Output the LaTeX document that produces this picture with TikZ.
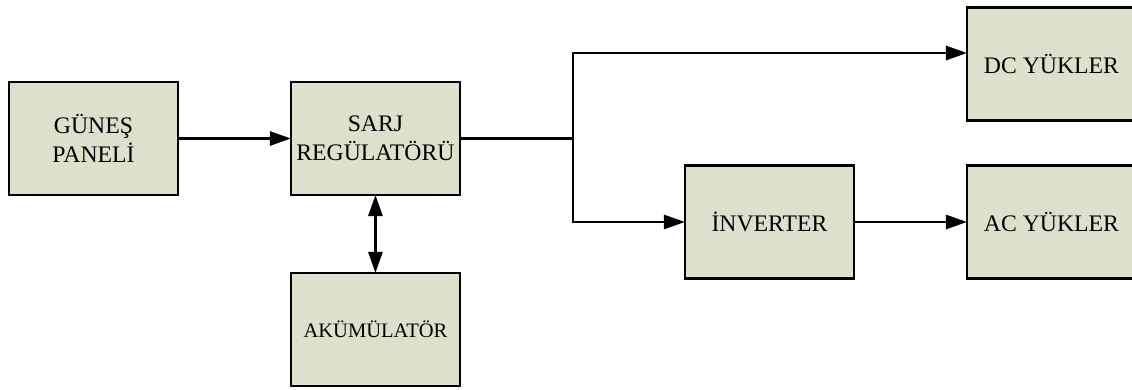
\documentclass[tikz,border=0pt]{standalone}
\usepackage{fontspec}
\setmainfont{Liberation Serif}
\usetikzlibrary{arrows.meta,positioning}

\begin{document}
\begin{tikzpicture}
[x=0.02cm,y=-0.02cm,
node distance=2.26cm,
block/.style={shape=rectangle,draw=black,line width=1.5pt,fill=boxfill,
  minimum width=3.38cm,minimum height=2.26cm,inner sep=2pt,outer sep=0pt,
  align=center,font=\fontsize{13.5}{16.5}\selectfont},
smallblock/.style={block,font=\fontsize{11.7}{13}\selectfont},
myedge/.style={line width=1.5pt},
dedge/.style={myedge,-{Triangle[length=12pt,width=8pt]}},
ddedge/.style={myedge,{Triangle[length=12pt,width=8pt]}-{Triangle[length=12pt,width=8pt]}}]
\definecolor{boxfill}{RGB}{221,224,203}
\useasboundingbox (0,0) rectangle (1132,389);

\node (gunes) [block] at (93.5,138.5) {GÜNEŞ\\PANELİ};
\node (sarj) [block,right=of gunes] {SARJ\\REGÜLATÖRÜ};
\node (aku) [smallblock,below=1.56cm of sarj] {AKÜMÜLATÖR};
\node (inv) [block] at (769.5,222) {İNVERTER};
\node (ac) [block,right=of inv] {AC YÜKLER};
\node (dc) [block] at (1051.5,64) {DC YÜKLER};
\coordinate (split) at (573,138.5);

\draw[dedge] (gunes) -- (sarj);
\draw[ddedge] (sarj) -- (aku);
\draw[myedge] (sarj) -- (split);
\draw[dedge] (split) |- ([yshift=0.22cm]dc.west);
\draw[dedge] (split) |- (inv);
\draw[dedge] (inv) -- (ac);

\end{tikzpicture}
\end{document}
